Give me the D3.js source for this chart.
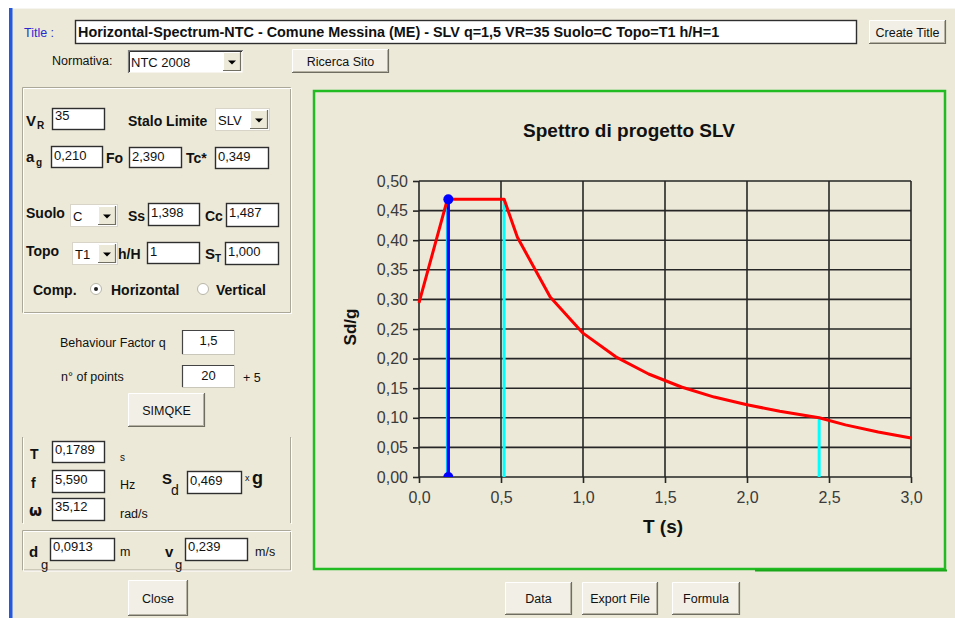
<!DOCTYPE html>
<html>
<head>
<meta charset="utf-8">
<script src="https://cdn.jsdelivr.net/npm/d3@7"></script>
<style>
  html, body { margin: 0; padding: 0; background: #fff; }
  svg { display: block; font-family: "Liberation Sans", Arial, sans-serif; }
</style>
</head>
<body>
<svg id="c" width="955" height="618"></svg>
<script>
// ---------- DATA ----------
const chartTitle = "Spettro di progetto SLV";
const windowTitle = "Horizontal-Spectrum-NTC - Comune Messina (ME) - SLV q=1,5 VR=35 Suolo=C Topo=T1 h/H=1";
const periodT = [0, 0.173, 0.519, 0.6, 0.8, 1.0, 1.2, 1.4, 1.6, 1.8, 2.0, 2.2, 2.44, 2.6, 2.8, 3.0];
const spectrumSd = [0.294, 0.469, 0.469, 0.405, 0.304, 0.243, 0.203, 0.174, 0.152, 0.135, 0.122, 0.111, 0.100, 0.088, 0.076, 0.066];
const cornerT = [0.173, 0.519, 2.44];          // TB, TC, TD (cyan markers)
const cornerSd = [0.469, 0.469, 0.100];
const selT = 0.1789, selSd = 0.469;            // selected period (blue)
const xTicks = [0, 0.5, 1.0, 1.5, 2.0, 2.5, 3.0];
const yTicks = [0, 0.05, 0.10, 0.15, 0.20, 0.25, 0.30, 0.35, 0.40, 0.45, 0.50];

// ---------- HELPERS ----------
const svg = d3.select("#c");
const BG = "#ece9d8";

svg.append("rect").attr("x", 0).attr("y", 0).attr("width", 955).attr("height", 618).attr("fill", "#fff");
svg.append("rect").attr("x", 12).attr("y", 8).attr("width", 943).attr("height", 610).attr("fill", BG);
svg.append("line").attr("x1", 12).attr("x2", 955).attr("y1", 8.5).attr("y2", 8.5).attr("stroke", "#f6f5ef");
svg.append("rect").attr("x", 9).attr("y", 8).attr("width", 3.5).attr("height", 610).attr("fill", "#2458e0");

function txt(x, y, s, o = {}) {
  return svg.append("text").attr("x", x).attr("y", y).text(s)
    .attr("font-size", o.size || 12.5)
    .attr("font-weight", o.bold ? "bold" : "normal")
    .attr("fill", o.fill || "#111")
    .attr("text-anchor", o.anchor || "start")
    .attr("font-family", o.family || null);
}
function textbox(x, y, w, h, s, o = {}) {
  const g = svg.append("g");
  g.append("rect").attr("x", x + 0.5).attr("y", y + 0.5).attr("width", w - 1).attr("height", h - 1)
    .attr("fill", "#fff").attr("stroke", o.light ? "#c9c7ba" : "#2e2e2e").attr("stroke-width", o.light ? 1 : 1.4);
  if (o.light) {
    g.append("path").attr("d", `M${x + 0.5},${y + h - 1}V${y + 0.5}H${x + w - 1}`).attr("fill", "none").attr("stroke", "#444").attr("stroke-width", 1.2);
  }
  const ax = o.center ? x + w / 2 : x + 3;
  txt(ax, y + (o.by || 14), s, { size: o.size || 13, anchor: o.center ? "middle" : "start" });
  return g;
}
function button(x, y, w, h, s, o = {}) {
  const g = svg.append("g");
  g.append("rect").attr("x", x).attr("y", y).attr("width", w).attr("height", h).attr("fill", "#f1efe6");
  g.append("path").attr("d", `M${x + 0.5},${y + h}V${y + 0.5}H${x + w}`).attr("fill", "none").attr("stroke", "#fff").attr("stroke-width", 1);
  g.append("path").attr("d", `M${x},${y + h - 0.5}H${x + w - 0.5}V${y}`).attr("fill", "none").attr("stroke", "#6f6d62").attr("stroke-width", 1.2);
  g.append("path").attr("d", `M${x + 1},${y + h - 1.5}H${x + w - 1.5}V${y + 1}`).attr("fill", "none").attr("stroke", "#b5b2a4").attr("stroke-width", 1);
  txt(x + w / 2, y + h / 2 + 4.5, s, { size: o.size || 12.5, anchor: "middle" });
}
function combo(x, y, w, h, s, o = {}) {
  const g = svg.append("g");
  g.append("rect").attr("x", x + 0.5).attr("y", y + 0.5).attr("width", w - 1).attr("height", h - 1)
    .attr("fill", "#fff").attr("stroke", o.sunken ? "none" : "#d8d5c8");
  if (o.sunken) {
    g.append("path").attr("d", `M${x + 0.5},${y + h}V${y + 0.5}H${x + w}`).attr("fill", "none").attr("stroke", "#808080").attr("stroke-width", 1.2);
    g.append("path").attr("d", `M${x + 1.5},${y + h - 1}V${y + 1.5}H${x + w - 1}`).attr("fill", "none").attr("stroke", "#333").attr("stroke-width", 1);
  }
  const bw = 18, bx = x + w - bw - 2, by = y + 2, bh = h - 4;
  g.append("rect").attr("x", bx).attr("y", by).attr("width", bw).attr("height", bh).attr("fill", "#ece9d8");
  g.append("path").attr("d", `M${bx + 0.5},${by + bh}V${by + 0.5}H${bx + bw}`).attr("fill", "none").attr("stroke", "#fff");
  g.append("path").attr("d", `M${bx},${by + bh - 0.5}H${bx + bw - 0.5}V${by}`).attr("fill", "none").attr("stroke", "#716f64").attr("stroke-width", 1.2);
  const cx = bx + bw / 2, cy = by + bh / 2 + 1;
  g.append("path").attr("d", `M${cx - 4},${cy - 2}H${cx + 4}L${cx},${cy + 2}Z`).attr("fill", "#000");
  txt(x + 3, y + h / 2 + 5, s, { size: 13 });
}
function etched(d) {
  svg.append("path").attr("d", d).attr("fill", "none").attr("stroke", "#aca899").attr("stroke-width", 1);
  svg.append("path").attr("d", d).attr("transform", "translate(1,1)").attr("fill", "none").attr("stroke", "#fff").attr("stroke-width", 1);
}
function radio(cx, cy, on) {
  svg.append("circle").attr("cx", cx).attr("cy", cy).attr("r", 5.5).attr("fill", "#fff").attr("stroke", "#b8b6a8").attr("stroke-width", 1);
  if (on) svg.append("circle").attr("cx", cx).attr("cy", cy).attr("r", 2).attr("fill", "#222");
}

// ---------- TOP ROW ----------
txt(24, 37, "Title :", { size: 12.5, fill: "#2a2ad0" });
textbox(75, 20, 782, 24, "", {});
txt(78, 37, windowTitle, { size: 14.4, bold: true });
button(869, 20, 77, 24, "Create Title");
txt(52, 65, "Normativa:", { size: 12.5 });
combo(128, 50, 115, 23, "NTC 2008", { sunken: true });
button(292, 49, 97, 24, "Ricerca Sito");

// ---------- GROUP 1 ----------
etched("M22.5,87.5H290.5V312.5H22.5Z");
txt(26, 126, "V", { size: 15, bold: true }); txt(37, 129, "R", { size: 10, bold: true });
textbox(52, 108, 53, 22, "35", { by: 12 });
txt(128, 126, "Stalo Limite", { size: 14, bold: true });
combo(215, 108, 55, 23, "SLV");

txt(26, 162, "a", { size: 15, bold: true }); txt(36, 166, "g", { size: 10, bold: true });
textbox(51, 146, 52, 22, "0,210");
txt(106, 163, "Fo", { size: 14, bold: true });
textbox(129, 147, 53, 21, "2,390");
txt(186, 163, "Tc*", { size: 14, bold: true });
textbox(215, 147, 54, 22, "0,349");

txt(26, 218, "Suolo", { size: 14, bold: true });
combo(70, 204, 48, 23, "C");
txt(128, 221, "Ss", { size: 14, bold: true });
textbox(148, 203, 52, 23, "1,398");
txt(205, 221, "Cc", { size: 14, bold: true });
textbox(226, 203, 53, 24, "1,487");

txt(26, 256, "Topo", { size: 14, bold: true });
combo(72, 242, 46, 23, "T1");
txt(118, 259, "h/H", { size: 14, bold: true });
textbox(147, 242, 53, 22, "1");
txt(205, 259, "S", { size: 15, bold: true }); txt(215, 262, "T", { size: 10, bold: true });
textbox(225, 242, 54, 23, "1,000");

txt(33, 295, "Comp.", { size: 14, bold: true });
radio(96, 289, true);
txt(111, 295, "Horizontal", { size: 14, bold: true });
radio(203, 289, false);
txt(216, 295, "Vertical", { size: 14, bold: true });

// ---------- GROUP 2 ----------
txt(60, 347, "Behaviour Factor q", { size: 12.5 });
textbox(182, 330, 53, 25, "1,5", { center: true, by: 15, light: true });
txt(61, 381, "n° of points", { size: 12.5 });
textbox(182, 365, 53, 23, "20", { center: true, by: 15, light: true });
txt(243, 382, "+ 5", { size: 12.5 });
button(128, 393, 77, 34, "SIMQKE");

// ---------- GROUP 3 ----------
etched("M22.5,437V523");
etched("M290.5,437V523");
txt(30, 459, "T", { size: 14, bold: true });
textbox(52, 441, 53, 22, "0,1789", { by: 13 });
txt(120, 461, "s", { size: 10 });
txt(31, 488, "f", { size: 14, bold: true });
textbox(52, 470, 53, 23, "5,590");
txt(120, 489, "Hz", { size: 12.5 });
txt(162, 484, "S", { size: 15, bold: true });
txt(171, 495, "d", { size: 14 });
textbox(187, 471, 55, 23, "0,469");
txt(245, 481, "x", { size: 9 });
txt(252, 484, "g", { size: 18, bold: true });
txt(29, 516, "ω", { size: 15, bold: true, family: "DejaVu Sans" });
textbox(52, 498, 53, 23, "35,12", { by: 13 });
txt(120, 518, "rad/s", { size: 12.5 });

// ---------- GROUP 4 ----------
etched("M22.5,530.5H290.5V570H22.5Z");
txt(29, 557, "d", { size: 15, bold: true }); txt(41, 569, "g", { size: 13 });
textbox(50, 538, 65, 23, "0,0913", { by: 13 });
txt(120, 556, "m", { size: 12.5 });
txt(165, 557, "v", { size: 15, bold: true }); txt(175, 569, "g", { size: 13 });
textbox(185, 538, 63, 23, "0,239", { by: 13 });
txt(255, 556, "m/s", { size: 12.5 });

button(128, 580, 60, 36, "Close");
button(505, 582, 67, 33, "Data");
button(582, 582, 76, 33, "Export File");
button(672, 582, 68, 33, "Formula");

// ---------- CHART FRAME ----------
svg.append("rect").attr("x", 314).attr("y", 91).attr("width", 631).attr("height", 478)
  .attr("fill", BG).attr("stroke", "#22bb22").attr("stroke-width", 2.5);
svg.append("line").attr("x1", 755).attr("x2", 947).attr("y1", 570.5).attr("y2", 570.5).attr("stroke", "#1aa81a").attr("stroke-width", 2);

// ---------- CHART ----------
const x = d3.scaleLinear().domain([0, 3]).range([419, 911]);
const y = d3.scaleLinear().domain([0, 0.5]).range([477, 181]);
const fmt = d => d3.format(".2f")(d).replace(".", ",");
const fmtX = d => d3.format(".1f")(d).replace(".", ",");

txt(629, 137, chartTitle, { size: 19, bold: true, anchor: "middle" });

// grid
const grid = svg.append("g").attr("stroke", "#262626").attr("stroke-width", 1.6);
grid.selectAll(".gx").data(xTicks).join("line")
  .attr("x1", d => x(d)).attr("x2", d => x(d)).attr("y1", y(0.5)).attr("y2", y(0));
grid.selectAll(".gy").data(yTicks).join("line")
  .attr("x1", x(0)).attr("x2", x(3)).attr("y1", d => y(d)).attr("y2", d => y(d));

// axes
const ax = svg.append("g").attr("transform", `translate(${x(0)},0)`)
  .call(d3.axisLeft(y).tickValues(yTicks).tickFormat(fmt).tickSize(6).tickPadding(5));
const bx = svg.append("g").attr("transform", `translate(0,${y(0)})`)
  .call(d3.axisBottom(x).tickValues(xTicks).tickFormat(fmtX).tickSize(6).tickPadding(9));
[ax, bx].forEach(a => {
  a.select(".domain").remove();
  a.selectAll(".tick line").attr("stroke", "#262626").attr("stroke-width", 1.6);
  a.selectAll(".tick text").attr("font-size", 16).attr("fill", "#3a3a3a")
    .attr("font-family", "'Liberation Sans', Arial, sans-serif");
});

// axis titles
svg.append("text").attr("transform", `translate(356,327) rotate(-90)`).attr("text-anchor", "middle")
  .attr("font-size", 17).attr("font-weight", "bold").attr("fill", "#111").text("Sd/g");
svg.append("text").attr("x", (x(0) + x(3)) / 2 - 2).attr("y", 533).attr("text-anchor", "middle")
  .attr("font-size", 19).attr("font-weight", "bold").attr("fill", "#111").text("T (s)");

// clip
svg.append("clipPath").attr("id", "pc").append("rect")
  .attr("x", x(0) - 10).attr("y", y(0.5) - 10).attr("width", x(3) - x(0) + 20).attr("height", y(0) - y(0.5) + 10);
const plot = svg.append("g").attr("clip-path", "url(#pc)");

// cyan corner lines
plot.selectAll(".cy").data(cornerT).join("line")
  .attr("x1", d => x(d)).attr("x2", d => x(d)).attr("y1", y(0))
  .attr("y2", (d, i) => y(cornerSd[i])).attr("stroke", "#00ffff").attr("stroke-width", 3);

// selected period (blue)
plot.append("line").attr("x1", x(selT)).attr("x2", x(selT)).attr("y1", y(0)).attr("y2", y(selSd))
  .attr("stroke", "#0000ff").attr("stroke-width", 3.2);
plot.append("circle").attr("cx", x(selT)).attr("cy", y(0)).attr("r", 5).attr("fill", "#0000ff");

// spectrum
const pts = periodT.map((t, i) => [t, spectrumSd[i]]);
plot.append("path").datum(pts)
  .attr("d", d3.line().x(d => x(d[0])).y(d => y(d[1])))
  .attr("fill", "none").attr("stroke", "#ff0000").attr("stroke-width", 3).attr("stroke-linejoin", "round");

plot.append("circle").attr("cx", x(selT)).attr("cy", y(selSd)).attr("r", 5).attr("fill", "#0000ff");
</script>
</body>
</html>
